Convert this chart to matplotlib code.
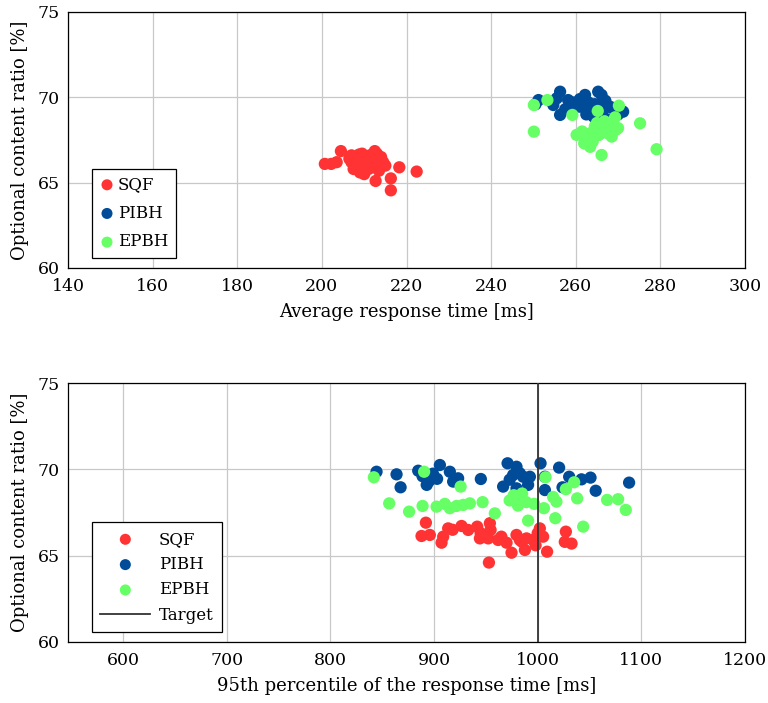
import matplotlib
matplotlib.use("Agg")
import matplotlib.pyplot as plt

plt.rcParams['font.family'] = ['DejaVu Serif']

series = ["SQF", "PIBH", "EPBH"]
colors = {"SQF": "#FF3333", "PIBH": "#004C99", "EPBH": "#66FF66"}

# Top: average response time [ms] vs optional content ratio [%]
sqf_avg_x = [200.7, 202.2, 203.5, 204.5, 207.0, 208.0, 208.5, 209.0, 209.5, 210.0, 210.5, 211.0,
             211.3, 212.0, 212.5, 213.0, 213.5, 214.0, 214.5, 207.5, 206.5, 210.0, 212.0, 215.0,
             213.0, 208.8, 211.8, 212.7, 216.3, 216.3, 218.3, 222.4, 209.3, 213.8, 207.0, 211.0]
sqf_avg_y = [66.1, 66.1, 66.2, 66.85, 66.6, 66.3, 66.0, 65.6, 66.7, 66.4, 66.1, 65.8,
             66.6, 66.3, 66.85, 66.0, 65.7, 66.5, 66.2, 65.8, 66.4, 65.5, 65.9, 66.0,
             66.7, 66.65, 66.2, 65.1, 65.25, 64.55, 65.9, 65.65, 66.1, 66.35, 66.2, 66.0]

pibh_avg_x = [251.2, 250.5, 256.3, 255.5, 254.7, 258.2, 256.3, 262.2, 265.3, 266.1, 261.0, 263.4,
              266.5, 268.1, 271.2, 264.2, 259.5, 257.5, 260.5, 263.0, 264.5, 267.0, 269.0, 265.5,
              262.5, 267.5, 261.0, 270.0, 259.0, 266.0]
pibh_avg_y = [69.84, 69.6, 70.33, 69.94, 69.55, 69.84, 68.97, 70.14, 70.33, 70.14, 69.45, 69.36,
              69.26, 69.45, 69.16, 68.87, 69.7, 69.3, 69.6, 69.7, 69.6, 69.8, 69.3, 68.9,
              69.0, 68.7, 69.9, 69.0, 69.2, 69.5]

epbh_avg_x = [250.1, 253.3, 250.1, 259.2, 265.2, 270.2, 269.3, 275.2, 279.1, 266.1, 260.2, 263.4,
              261.5, 262.5, 263.5, 264.5, 265.5, 266.5, 267.5, 268.0, 268.5, 269.5, 270.0, 264.0,
              265.0, 266.8, 262.0, 267.0]
epbh_avg_y = [69.55, 69.84, 67.99, 68.97, 69.2, 69.51, 68.83, 68.48, 66.96, 66.62, 67.8, 67.1,
              68.0, 67.6, 67.9, 68.3, 67.8, 68.1, 67.9, 68.4, 67.7, 68.1, 68.2, 67.4,
              68.5, 68.6, 67.3, 68.0]

# Bottom: 95th percentile response time [ms] vs optional content ratio [%]
sqf_p95_x = [892.2, 888.0, 896.0, 907.3, 913.7, 908.9, 926.6, 933.0, 941.7, 944.3, 953.9, 954.6,
             953.0, 952.3, 961.9, 970.0, 979.6, 982.8, 974.8, 987.7, 989.3, 995.7, 1002.1, 1005.3,
             1009.1, 1027.2, 1026.2, 1032.7, 998.0, 985.0, 965.0, 1000.0, 945.0, 918.0]
sqf_p95_y = [66.91, 66.14, 66.2, 65.75, 66.58, 66.1, 66.72, 66.49, 66.68, 66.0, 66.88, 66.49,
             64.6, 66.0, 65.91, 65.75, 66.2, 65.91, 65.17, 65.33, 66.0, 65.91, 66.58, 66.1,
             65.23, 66.39, 65.8, 65.7, 65.6, 65.8, 66.1, 66.3, 66.3, 66.5]

pibh_p95_x = [844.6, 863.9, 867.8, 884.8, 905.7, 889.0, 895.0, 899.0, 903.0, 915.3, 923.3, 918.5,
              945.2, 971.0, 966.7, 979.6, 982.8, 976.3, 986.0, 992.5, 979.6, 990.8, 1002.8, 1007.0,
              1007.0, 1020.7, 1030.4, 1024.0, 1042.3, 1051.0, 1056.0, 1088.2, 893.0, 973.0]
pibh_p95_y = [69.86, 69.71, 68.96, 69.92, 70.25, 69.6, 69.3, 69.75, 69.45, 69.86, 69.48, 69.29,
              69.44, 70.35, 69.0, 70.15, 69.77, 69.67, 69.57, 69.57, 68.9, 69.1, 70.35, 69.57,
              68.8, 70.1, 69.57, 68.96, 69.42, 69.52, 68.76, 69.23, 69.1, 69.4]

epbh_p95_x = [842.0, 890.5, 856.8, 876.0, 889.0, 902.5, 910.5, 915.3, 921.8, 928.2, 934.6, 925.7,
              946.9, 958.7, 973.0, 977.0, 981.0, 985.0, 989.0, 979.0, 990.8, 996.6, 1006.0, 1007.6,
              1014.9, 1018.1, 1017.0, 1027.2, 1035.2, 1038.1, 1043.9, 1067.0, 1077.6, 1085.0]
epbh_p95_y = [69.54, 69.86, 68.03, 67.55, 67.88, 67.84, 68.0, 67.75, 67.88, 67.94, 68.03, 69.0,
              68.1, 67.45, 68.2, 68.5, 67.9, 68.6, 68.1, 68.4, 67.03, 68.0, 67.75, 69.54,
              68.4, 68.13, 67.17, 68.85, 69.25, 68.32, 66.68, 68.23, 68.27, 67.65]

target_ms = 1000

top_xticks = [140, 160, 180, 200, 220, 240, 260, 280, 300]
bot_xticks = [600, 700, 800, 900, 1000, 1100, 1200]
yticks = [60, 65, 70, 75]

W, H = 768, 703
fig = plt.figure(figsize=(W / 100, H / 100), dpi=100)
ax1 = fig.add_axes([68 / W, 1 - 268 / H, (745 - 68) / W, (268 - 12) / H])
ax2 = fig.add_axes([68 / W, 1 - 642 / H, (745 - 68) / W, (642 - 383) / H])

S = 78
top_data = {"SQF": (sqf_avg_x, sqf_avg_y), "PIBH": (pibh_avg_x, pibh_avg_y), "EPBH": (epbh_avg_x, epbh_avg_y)}
bot_data = {"SQF": (sqf_p95_x, sqf_p95_y), "PIBH": (pibh_p95_x, pibh_p95_y), "EPBH": (epbh_p95_x, epbh_p95_y)}

for name in series:
    x, y = top_data[name]
    ax1.scatter(x, y, s=S, color=colors[name], edgecolors='none', zorder=3, label=name)
for name in series:
    x, y = bot_data[name]
    ax2.scatter(x, y, s=S, color=colors[name], edgecolors='none', zorder=3, label=name)
ax2.axvline(target_ms, color='#333333', lw=1.3, zorder=4, label='Target')

for ax, xt in ((ax1, top_xticks), (ax2, bot_xticks)):
    ax.set_yticks(yticks)
    ax.set_xticks(xt)
    ax.set_ylim(60, 75)
    ax.grid(True, color='#c8c8c8', lw=0.9, zorder=0)
    ax.set_axisbelow(True)
    ax.tick_params(direction='in', length=0, labelsize=12.5, width=0.8)
    ax.tick_params(axis='x', pad=7)
    ax.tick_params(axis='y', pad=6)
    for sp in ax.spines.values():
        sp.set_linewidth(0.9)
    ax.set_ylabel('Optional content ratio [%]', fontsize=13, labelpad=6)

ax1.set_xlim(140, 300)
ax2.set_xlim(547, 1200)
ax1.set_xlabel('Average response time [ms]', fontsize=13, labelpad=6)
ax2.set_xlabel('95th percentile of the response time [ms]', fontsize=13, labelpad=6)

ax1.legend(loc='lower left', bbox_to_anchor=(24 / 677, 10 / 256), fontsize=12, frameon=True,
           fancybox=False, edgecolor='black', framealpha=1, handletextpad=0.2,
           handlelength=0.9, borderpad=0.45, labelspacing=0.7, borderaxespad=0,
           markerscale=0.9, scatterpoints=1)
leg2 = ax2.legend(loc='lower left', bbox_to_anchor=(24 / 677, 10 / 259), fontsize=12, frameon=True,
                  fancybox=False, edgecolor='black', framealpha=1, handletextpad=0.5,
                  handlelength=3.0, borderpad=0.5, labelspacing=0.5, borderaxespad=0,
                  markerscale=0.9, scatterpoints=1)
for fr in (ax1.get_legend().get_frame(), leg2.get_frame()):
    fr.set_linewidth(0.9)

fig.savefig('out.png', dpi=100)
